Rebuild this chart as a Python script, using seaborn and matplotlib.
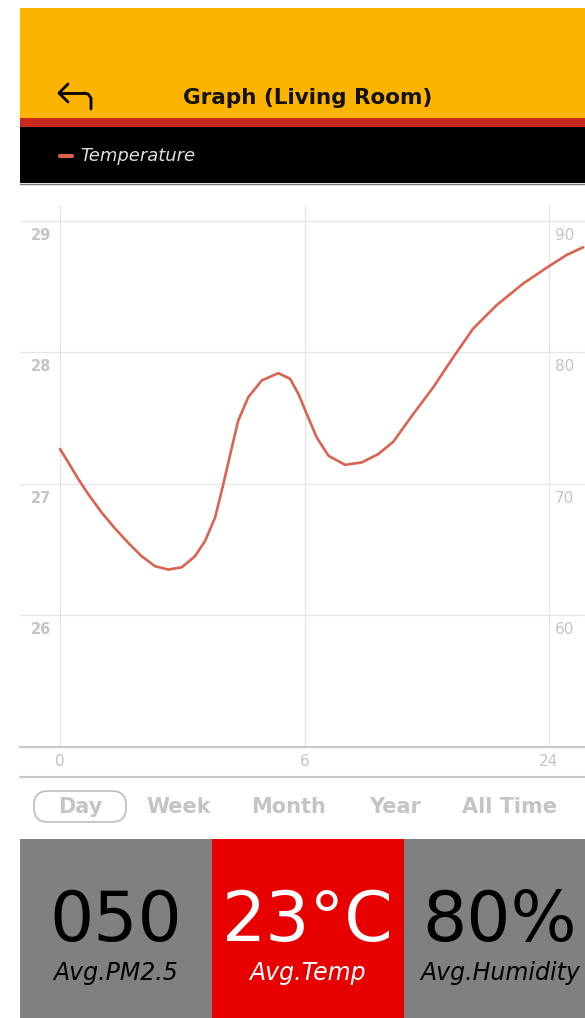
import matplotlib
matplotlib.use("Agg")
from matplotlib import pyplot as plt
from matplotlib.patches import Rectangle, FancyBboxPatch
import pandas as pd
import seaborn as sns

# Temperature curve (x in axis slots: 0 -> "0", 1 -> "6", 2 -> "24")
slot = [0.000, 0.034, 0.075, 0.116, 0.171, 0.225, 0.279, 0.334, 0.389, 0.443,
        0.498, 0.552, 0.593, 0.634, 0.668, 0.700, 0.729, 0.770, 0.825, 0.893,
        0.941, 0.975, 1.009, 1.050, 1.098, 1.166, 1.234, 1.302, 1.363, 1.445,
        1.527, 1.609, 1.690, 1.786, 1.895, 1.997, 2.072, 2.140]
temperature = [27.265, 27.163, 27.036, 26.921, 26.781, 26.661, 26.552, 26.450, 26.374, 26.349,
               26.366, 26.450, 26.565, 26.743, 26.998, 27.255, 27.481, 27.659, 27.786, 27.842,
               27.799, 27.685, 27.532, 27.353, 27.214, 27.145, 27.163, 27.227, 27.320, 27.532,
               27.735, 27.964, 28.181, 28.359, 28.524, 28.651, 28.740, 28.799]

x_ticks = [0, 1, 2]
x_labels = ["0", "6", "24"]
left_ticks = [26, 27, 28, 29]
right_labels = ["60", "70", "80", "90"]
periods = ["Day", "Week", "Month", "Year", "All Time"]
stat_values = ["050", "23°C", "80%"]
stat_names = ["Avg.PM2.5", "Avg.Temp", "Avg.Humidity"]

W, H = 585, 1018
YELLOW = "#FDB400"
RED_LINE = "#C9281E"
LINE = "#DA6352"
GRID = "#E6E6E6"
LABEL = "#C4C4C4"

sns.set_theme(style="white")
plt.rcParams["font.family"] = ["DejaVu Sans"]

fig = plt.figure(figsize=(W / 100, H / 100), dpi=100)
fig.patch.set_facecolor("white")

# decoration layer in pixel coordinates
deco = fig.add_axes([0, 0, 1, 1])
deco.set_xlim(0, W)
deco.set_ylim(H, 0)
deco.axis("off")

deco.add_patch(Rectangle((20, 8), W - 20, 110, color=YELLOW, lw=0))
deco.add_patch(Rectangle((20, 118), W - 20, 9, color=RED_LINE, lw=0))
deco.add_patch(Rectangle((20, 127), W - 20, 56, color="black", lw=0))
deco.plot([20, W], [183.5, 183.5], color="#777777", lw=1)

# back arrow
deco.plot([59, 84], [93, 93], color="black", lw=2, solid_capstyle="round")
deco.plot([84, 88, 91, 91], [93, 94, 98, 109], color="black", lw=2, solid_capstyle="round")
deco.plot([68, 59, 68], [84, 93, 102], color="black", lw=2, solid_capstyle="round",
          solid_joinstyle="round")

deco.text(308, 98, "Graph (Living Room)", ha="center", va="center",
          fontsize=15.5, fontweight="bold", color="#111111")

# legend
deco.plot([60, 72], [156, 156], color=LINE, lw=3)
deco.text(80, 156, "Temperature", ha="left", va="center", fontsize=13,
          style="italic", color="#DDDDDD")

# chart
ax = fig.add_axes([20 / W, 1 - 747 / H, 1 - 20 / W, (747 - 205) / H])
df = pd.DataFrame({"slot": slot, "temperature": temperature})
sns.lineplot(data=df, x="slot", y="temperature", ax=ax, color=LINE, lw=1.9, zorder=3)
ax.set_xlim(-40 / 244.5, (W - 60) / 244.5)
ax.set_ylim(25, 29.12)
for v in left_ticks:
    ax.axhline(v, color=GRID, lw=1, zorder=1)
for v in x_ticks:
    ax.axvline(v, color=GRID, lw=1, zorder=1)
for v, r in zip(left_ticks, right_labels):
    ax.text(-0.035, v - 0.11, str(v), ha="right", va="center", fontsize=10.5,
            fontweight="bold", color=LABEL)
    ax.text(2.025, v - 0.11, r, ha="left", va="center", fontsize=11,
            color=LABEL)
ax.set_xticks(x_ticks)
ax.set_xticklabels(x_labels, fontsize=11, color=LABEL)
ax.set_yticks([])
ax.tick_params(axis="x", length=0, pad=5)
ax.set_xlabel("")
ax.set_ylabel("")
for s in ["top", "left", "right"]:
    ax.spines[s].set_visible(False)
ax.spines["bottom"].set_color("#C8C8C8")
ax.spines["bottom"].set_linewidth(1.5)

deco.plot([20, W], [777, 777], color="#C8C8C8", lw=1.5)

# period selector
period_x = [80, 179, 289, 395, 510]
for px, p in zip(period_x, periods):
    deco.text(px, 807, p, ha="center", va="center", fontsize=15,
              fontweight="bold", color=LABEL)
deco.add_patch(FancyBboxPatch((34, 791), 92, 31,
                              boxstyle="round,pad=0,rounding_size=14",
                              fc="none", ec="#BDBDBD", lw=1.2))

# bottom stats
panel_colors = ["#808080", "#E80000", "#808080"]
panel_x = [20, 212, 404]
text_colors = ["black", "white", "black"]
for x0, c, tc, val, name in zip(panel_x, panel_colors, text_colors, stat_values, stat_names):
    deco.add_patch(Rectangle((x0, 839), 192, H - 839, color=c, lw=0))
    deco.text(x0 + 96, 922, val, ha="center", va="center", fontsize=50,
              color=tc)
    deco.text(x0 + 96, 973, name, ha="center", va="center", fontsize=17,
              style="italic", color=tc)

fig.savefig("out.png", dpi=100)
